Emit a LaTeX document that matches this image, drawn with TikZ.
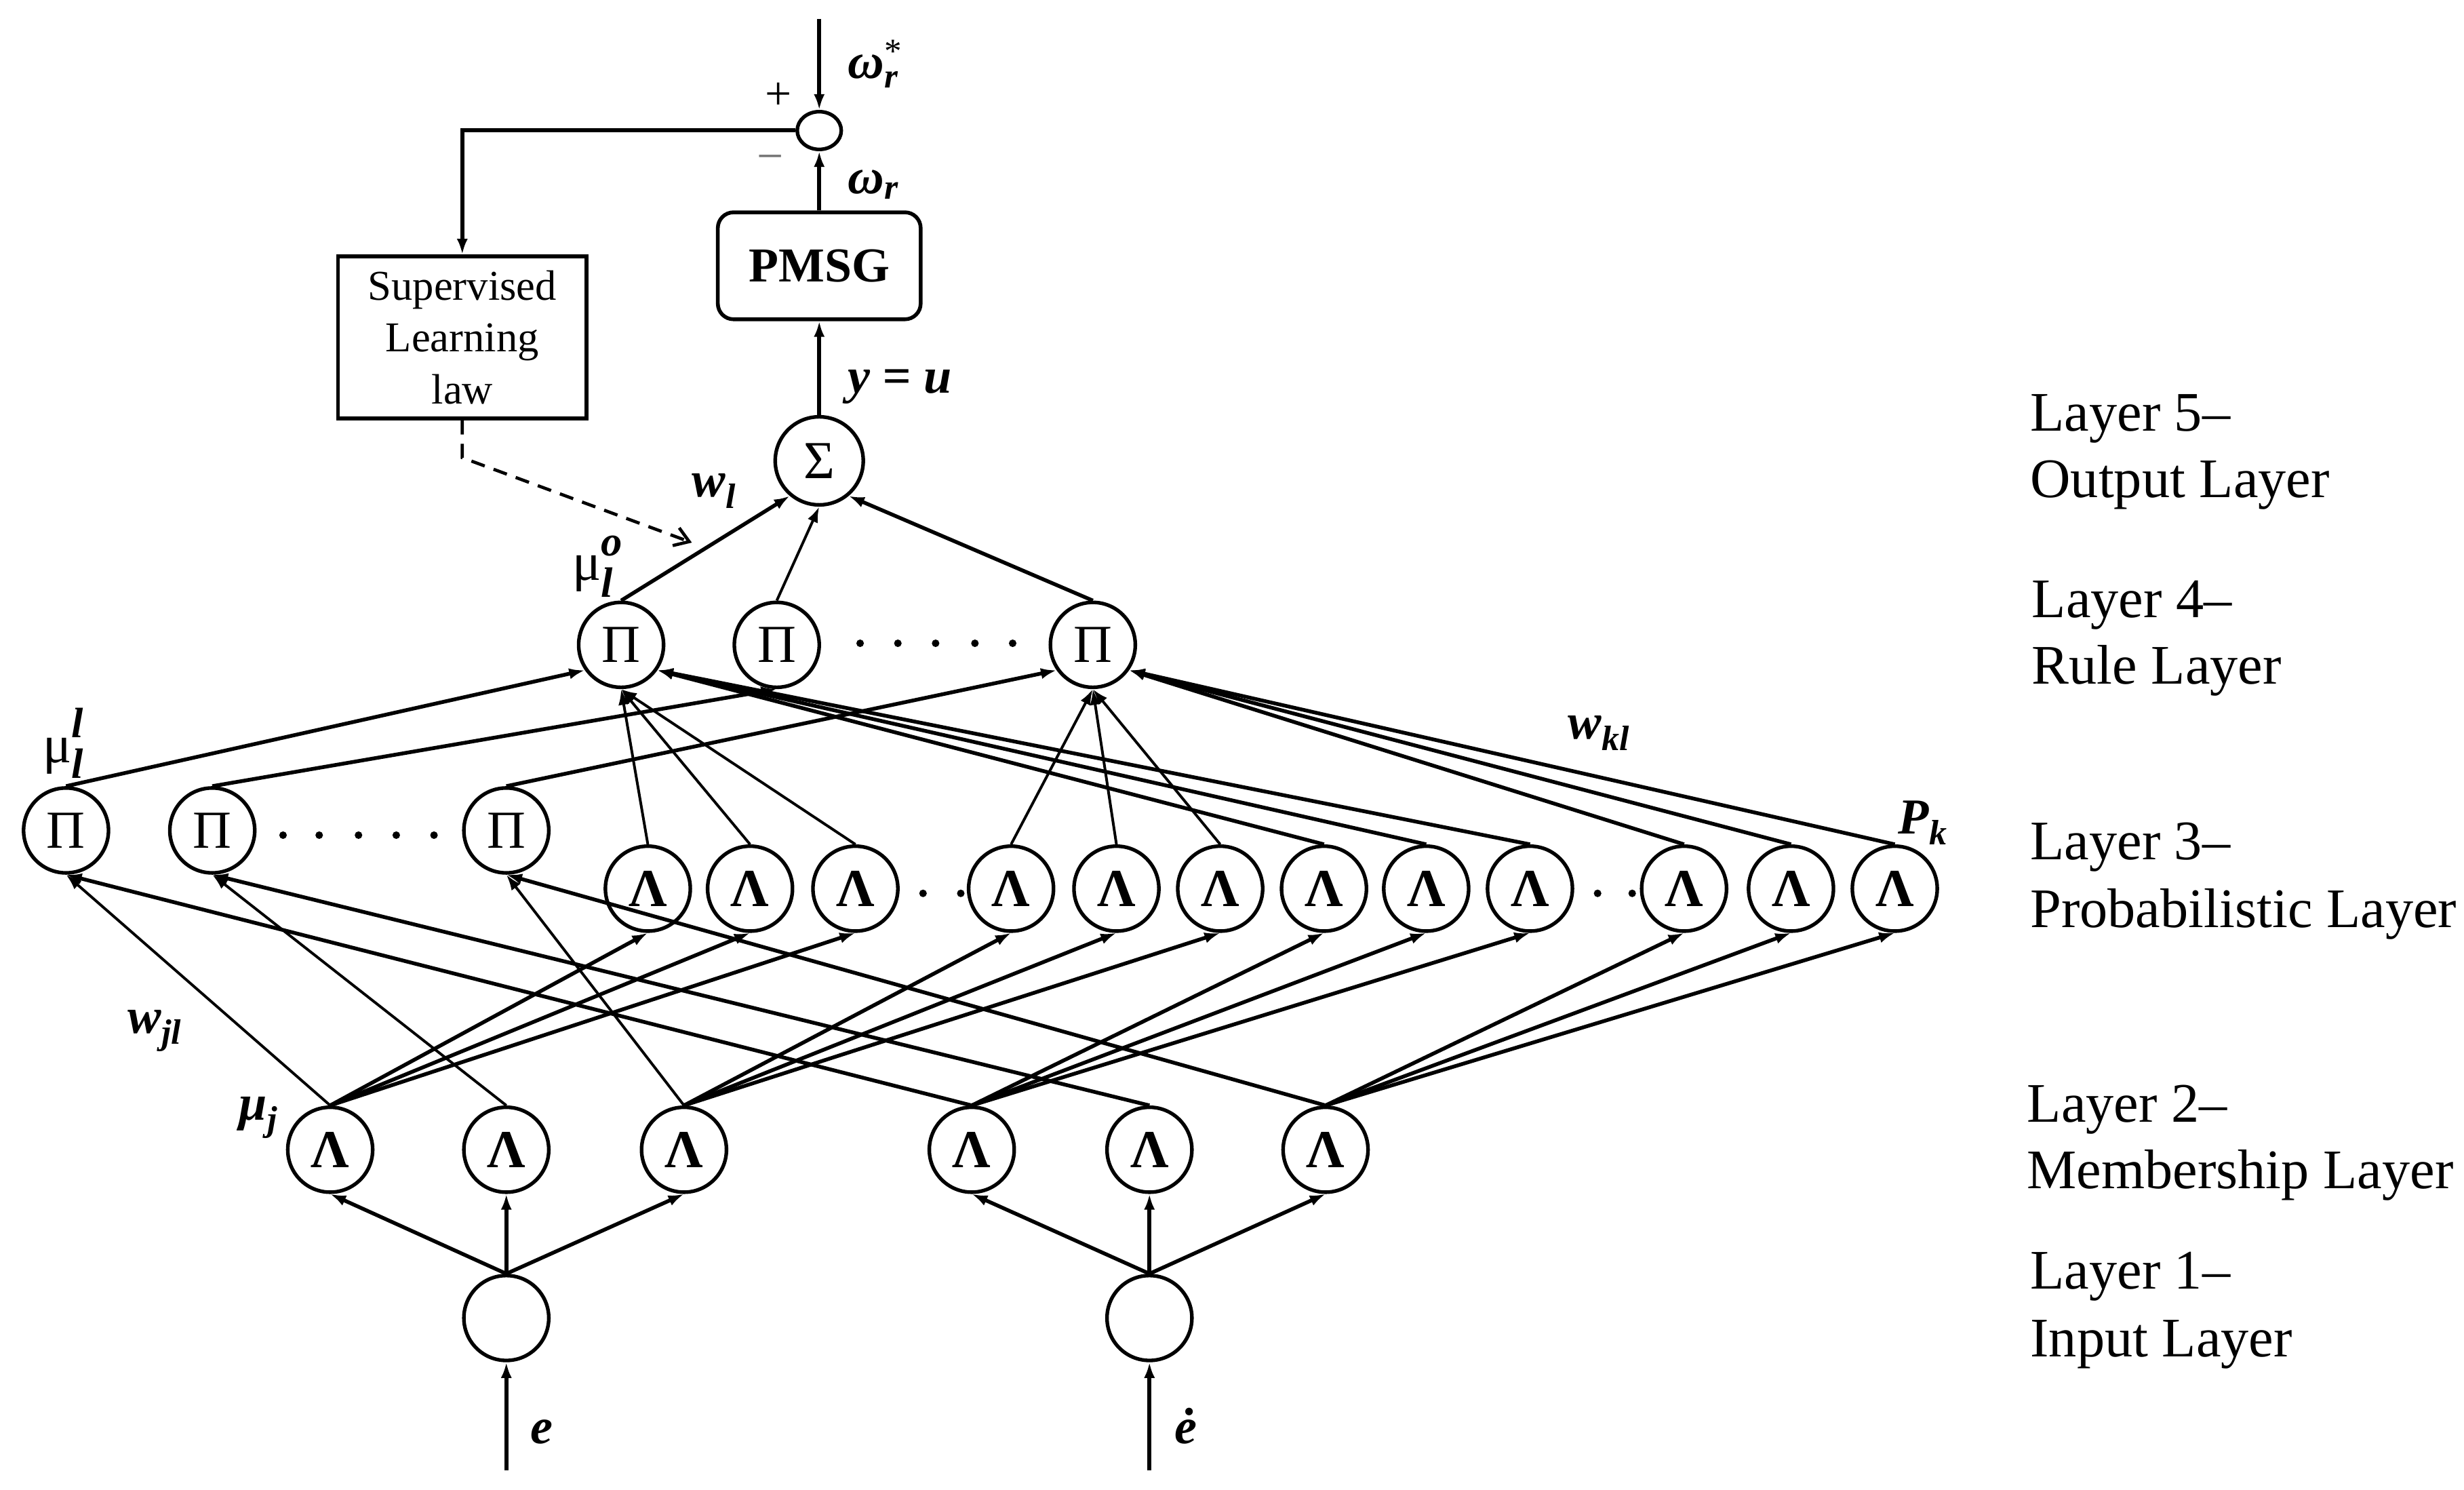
\documentclass[tikz,border=0pt]{standalone}
\usepackage{fontspec}
\setmainfont{Liberation Serif}
\usetikzlibrary{arrows.meta,shapes.geometric}
\newcommand{\bi}[1]{\textbf{\textit{#1}}}
\newcommand{\stk}[5]{\raisebox{#1}{\fontsize{#2}{#3}\selectfont\begin{tabular}[b]{@{}l@{}}#4\\#5\end{tabular}}}
\begin{document}
\begin{tikzpicture}[x=1pt,y=-1pt,
  neuron/.style={circle,draw,line width=2.3pt,minimum size=54pt,inner sep=0pt,font=\fontsize{34}{34}\selectfont},
  lam/.style={neuron,font=\fontsize{34}{34}\selectfont\bfseries},
  con/.style={line width=2.4pt,-{Latex[length=10pt,width=7pt]}},
  tcon/.style={line width=1.7pt,-{Latex[length=10pt,width=7pt]}},
  lbl/.style={inner sep=0pt,anchor=base west,font=\fontsize{32}{32}\selectfont},
  lay/.style={inner sep=0pt,anchor=base west,font=\fontsize{35.5}{42}\selectfont}
]
\useasboundingbox (0,0) rectangle (1567,947.35);
% layer 1
\node[neuron] (I1) at (322,838) {};
\node[neuron] (I2) at (731,838) {};
\coordinate (ein) at (322,935);
\coordinate (edin) at (731,935);
% layer 2
\node[lam] (M1) at (210,731) {Λ};
\node[lam] (M2) at (322,731) {Λ};
\node[lam] (M3) at (435,731) {Λ};
\node[lam] (M4) at (618,731) {Λ};
\node[lam] (M5) at (731,731) {Λ};
\node[lam] (M6) at (843,731) {Λ};
% layer 3
\node[neuron] (P1) at (42,528) {Π};
\node[neuron] (P2) at (135,528) {Π};
\node[neuron] (P3) at (322,528) {Π};
\node[lam] (L1) at (412,565) {Λ};
\node[lam] (L2) at (477,565) {Λ};
\node[lam] (L3) at (544,565) {Λ};
\node[lam] (L4) at (643,565) {Λ};
\node[lam] (L5) at (710,565) {Λ};
\node[lam] (L6) at (776,565) {Λ};
\node[lam] (L7) at (842,565) {Λ};
\node[lam] (L8) at (907,565) {Λ};
\node[lam] (L9) at (973,565) {Λ};
\node[lam] (L10) at (1071,565) {Λ};
\node[lam] (L11) at (1139,565) {Λ};
\node[lam] (L12) at (1205,565) {Λ};
% layer 4
\node[neuron] (R1) at (395,410) {Π};
\node[neuron] (R2) at (494,410) {Π};
\node[neuron] (R3) at (695,410) {Π};
% layer 5
\node[neuron,minimum size=56pt] (Sg) at (521,293) {Σ};
\node[draw,rounded corners=10pt,line width=2.4pt,minimum width=129pt,minimum height=68pt,font=\fontsize{31}{31}\selectfont\bfseries] (pm) at (521,169) {PMSG};
\node[ellipse,draw,line width=2.3pt,minimum width=28pt,minimum height=24pt,inner sep=0pt] (S) at (521,83) {};
\node[draw,line width=2.4pt,minimum width=158pt,minimum height=103pt,align=center,font=\fontsize{27}{33}\selectfont] (SL) at (294,214.5) {Supervised\\Learning\\law};
\coordinate (top) at (521,12);
\coordinate (fb) at (294,83);
\coordinate (dk) at (294,291);
\coordinate (dtip) at (440,345);
% dots
\foreach \x in {547,571,595,620,644} \fill (\x,409) circle (2.4pt);
\foreach \x in {180,203,228,252,276} \fill (\x,531) circle (2.4pt);
\foreach \x in {587,611,1016,1038} \fill (\x,568) circle (2.4pt);
% top loop
\draw[con] (top) -- (S.north);
\draw[con] (pm.north) -- (S.south);
\draw[con] (Sg.north) -- (pm.south);
\draw[con,line width=2.6pt] (S.west) -- (fb) -- (SL.north);
\draw[dash pattern=on 9pt off 6pt,line width=2pt,-{Straight Barb[length=9pt,width=12pt]}] (SL.south) -- (dk) -- (dtip);
% inputs
\draw[con] (ein) -- (I1.south);
\draw[con] (edin) -- (I2.south);
\foreach \m in {M1,M2,M3} \draw[con] (I1.north) -- (\m.south);
\foreach \m in {M4,M5,M6} \draw[con] (I2.north) -- (\m.south);
% layer 2 -> layer 3
\foreach \a/\b in {M1/L1,M1/L2,M1/L3,M3/L4,M3/L5,M3/L6,M4/L7,M4/L8,M4/L9,M6/L10,M6/L11,M6/L12}
  \draw[con] (\a.north) -- (\b.south);
\draw[tcon] (M1.north) -- (P1.south);
\draw[tcon] (M2.north) -- (P2.south);
\draw[tcon] (M3.north) -- (P3.south);
\draw[con] (M4.north) -- (P1.south);
\draw[con] (M5.north) -- (P2.south);
\draw[con] (M6.north) -- (P3.south);
% layer 3 -> layer 4
\foreach \l in {L1,L2,L3} \draw[tcon] (\l.north) -- (R1.south);
\foreach \l in {L4,L5,L6} \draw[tcon] (\l.north) -- (R3.south);
\foreach \l in {L7,L8,L9} \draw[con] (\l.north) -- (R1.-35);
\foreach \l in {L10,L11,L12} \draw[con] (\l.north) -- (R3.-35);
\draw[con] (P1.north) -- (R1.-145);
\draw[con] (P2.north) -- (R2.south);
\draw[con] (P3.north) -- (R3.-145);
% layer 4 -> layer 5
\draw[con] (R1.north) -- (Sg.-130);
\draw[tcon] (R2.north) -- (Sg.south);
\draw[con] (R3.north) -- (Sg.-50);
% signs and labels
\node[font=\fontsize{30}{30}\selectfont] (plus) at (495,61) {+};
\node[font=\fontsize{30}{30}\selectfont,text=black!55] (minus) at (490,104) {−};
\node[lbl] (lwrs) at (539,50) {\bi{ω}\stk{-6pt}{22}{16}{*}{\bi{r}}};
\node[lbl] (lwr) at (539,123) {\bi{ω}\textsubscript{\bi{r}}};
\node[lbl] (lyu) at (539,250) {\bi{y = u}};
\node[lbl] (le) at (337,918) {\bi{e}};
\node[lbl] (led) at (747,918) {\bi{ė}};
\node[lbl] (lmuj) at (152,712) {\bi{μ}\textsubscript{\bi{j}}};
\node[lbl] (lwjl) at (81,657) {\bi{w}\textsubscript{\bi{jl}}};
\node[lbl,font=\fontsize{34}{34}\selectfont] (lmul) at (27,485) {μ\stk{-10pt}{27}{25}{\bi{l}}{\bi{l}}};
\node[lbl,font=\fontsize{34}{34}\selectfont] (lmuo) at (364,369) {μ\stk{-10.5pt}{27}{25}{\bi{o}}{\bi{l}}};
\node[lbl] (lwl) at (440,316) {\bi{w}\textsubscript{\bi{l}}};
\node[lbl] (lwkl) at (997,470) {\bi{w}\textsubscript{\bi{kl}}};
\node[lbl] (lpk) at (1207,530) {\bi{P}\textsubscript{\bi{k}}};
% layer names
\node[lay] (n5a) at (1291,274) {Layer 5–};
\node[lay] (n5b) at (1291,316.5) {Output Layer};
\node[lay] (n4a) at (1292,392.5) {Layer 4–};
\node[lay] (n4b) at (1292,435) {Rule Layer};
\node[lay] (n3a) at (1291,546.5) {Layer 3–};
\node[lay] (n3b) at (1291,589.5) {Probabilistic Layer};
\node[lay] (n2a) at (1289,713.5) {Layer 2–};
\node[lay] (n2b) at (1289,755.5) {Membership Layer};
\node[lay] (n1a) at (1291,819.5) {Layer 1–};
\node[lay] (n1b) at (1291,862.5) {Input Layer};
\end{tikzpicture}
\end{document}
